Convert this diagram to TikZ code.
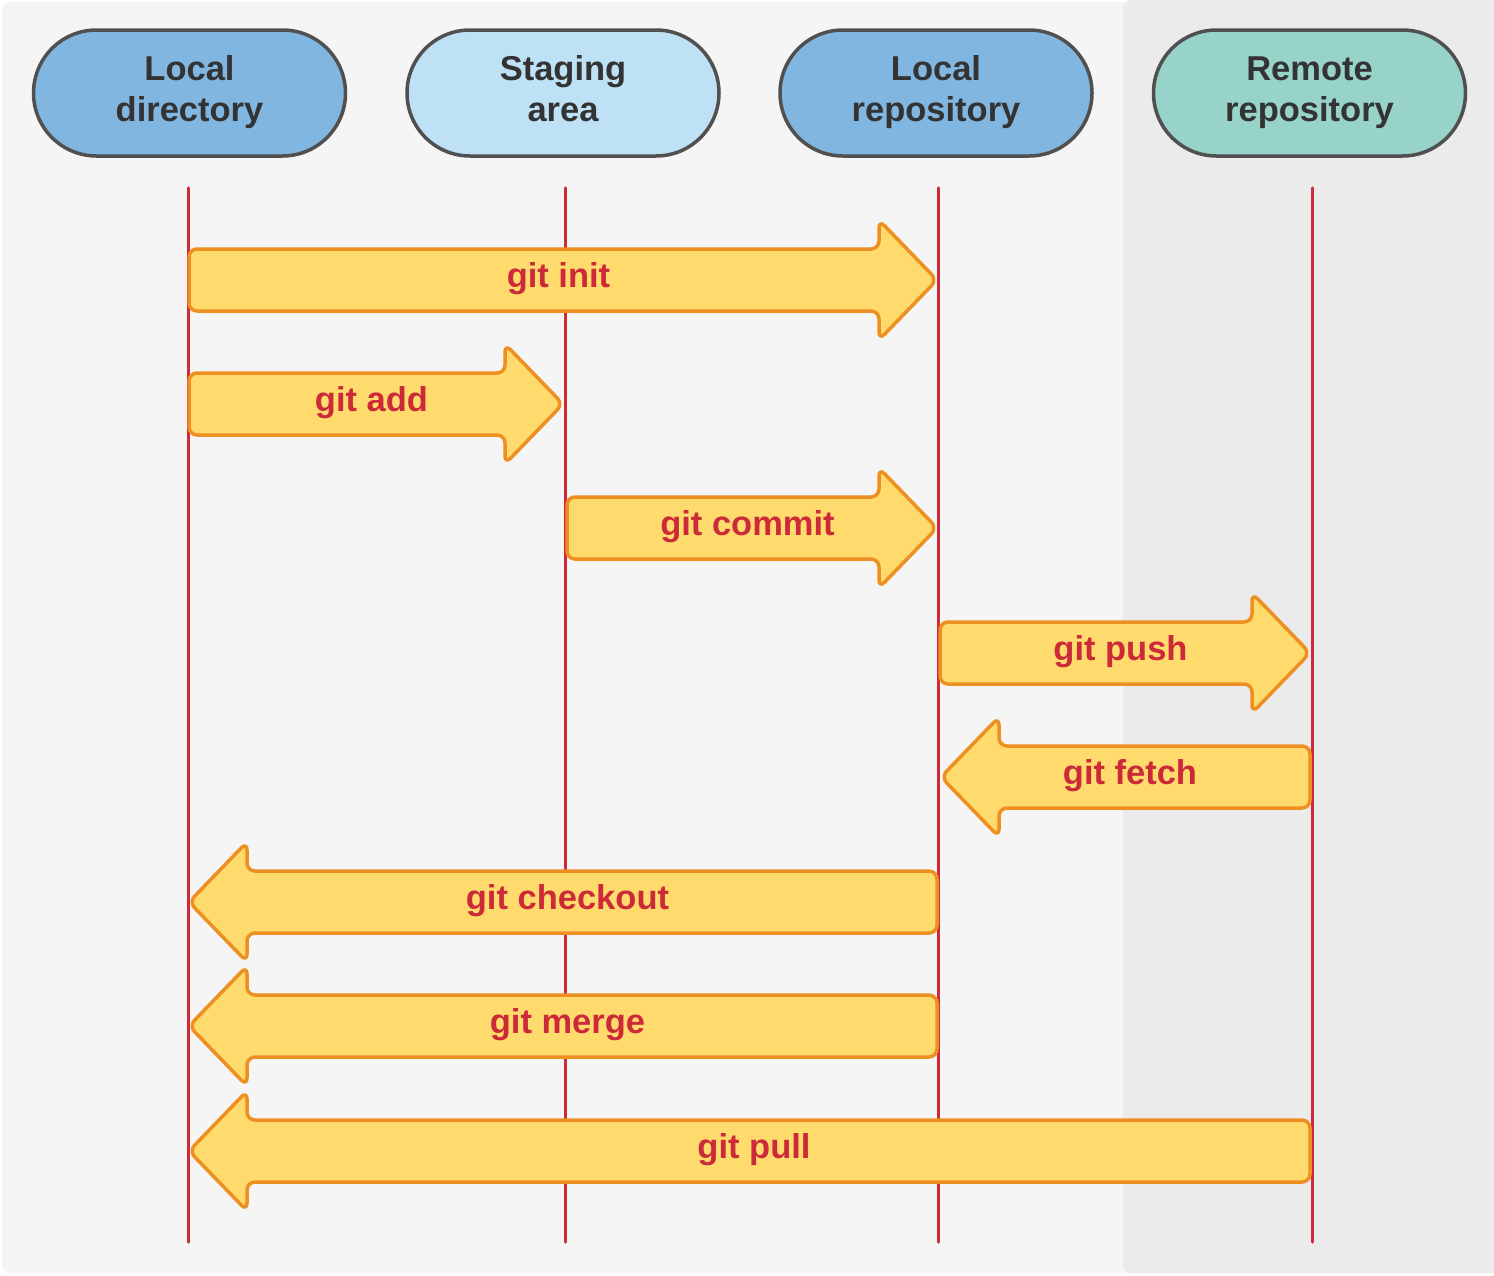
\documentclass[tikz,border=0pt]{standalone}
\usepackage{fontspec}
\setmainfont{Liberation Sans}
\usetikzlibrary{shapes.misc}
\definecolor{bgl}{HTML}{F5F5F5}
\definecolor{bgr}{HTML}{EBEBEB}
\definecolor{hblue}{HTML}{80B6E0}
\definecolor{hlight}{HTML}{BEE1F5}
\definecolor{hgreen}{HTML}{97D3C8}
\definecolor{hborder}{HTML}{505050}
\definecolor{htext}{HTML}{333333}
\definecolor{lanered}{HTML}{CF2A3A}
\definecolor{arrfill}{HTML}{FFDB6E}
\definecolor{arrdraw}{HTML}{EE8F22}
\definecolor{arrtext}{HTML}{CC2A38}
\tikzset{
  hdr/.style={rounded rectangle, draw=hborder, line width=3.5pt, minimum width=312pt, minimum height=126pt,
    align=center, text=htext, font=\fontsize{34.5}{41}\selectfont\bfseries, inner sep=0pt},
  lane/.style={draw=lanered, line width=3.5pt, line cap=round},
  blockarr/.style={fill=arrfill, draw=arrdraw, line width=3.5pt, rounded corners=8pt, line join=round},
  arrlabel/.style={text=arrtext, font=\fontsize{34.5}{40}\selectfont\bfseries, inner sep=0pt}
}
\newcommand{\rightblock}[5]{%
  \path[blockarr] ({#2},{#4-31}) -- ({#3-55},{#4-31}) -- ({#3-55},{#4-60}) -- ({#3+3},{#4}) -- ({#3-55},{#4+60}) -- ({#3-55},{#4+31}) -- ({#2},{#4+31}) -- cycle;
  \node[arrlabel] (#1) at ({(#2+#3)/2-3},{#4-1}) {#5};}
\newcommand{\leftblock}[5]{%
  \path[blockarr] ({#3},{#4-31}) -- ({#2+55},{#4-31}) -- ({#2+55},{#4-60}) -- ({#2-3},{#4}) -- ({#2+55},{#4+60}) -- ({#2+55},{#4+31}) -- ({#3},{#4+31}) -- cycle;
  \node[arrlabel] (#1) at ({(#2+#3)/2+3},{#4-1}) {#5};}
\begin{document}
\begin{tikzpicture}[x=1pt,y=-1pt]
\useasboundingbox (0,0) rectangle (1494,1275);
\fill[white] (0,0) rectangle (1494,1275);
\fill[bgl, rounded corners=8pt] (2,2) rectangle (1140,1273);
\fill[bgr, rounded corners=8pt] (1123,0) rectangle (1502,1273);
% headers
\node[hdr, fill=hblue] (h1) at (189.5,93) {\strut Local\\\strut directory};
\node[hdr, fill=hlight] (h2) at (563,93) {\strut Staging\\\strut area};
\node[hdr, fill=hblue] (h3) at (936,93) {\strut Local\\\strut repository};
\node[hdr, fill=hgreen] (h4) at (1309.5,93) {\strut Remote\\\strut repository};
% lanes
\coordinate (l1t) at (188.5,188); \coordinate (l1b) at (188.5,1242);
\coordinate (l2t) at (565.5,188); \coordinate (l2b) at (565.5,1242);
\coordinate (l3t) at (938.5,188); \coordinate (l3b) at (938.5,1242);
\coordinate (l4t) at (1312.5,188); \coordinate (l4b) at (1312.5,1242);
\draw[lane] (l1t) -- (l1b);
\draw[lane] (l2t) -- (l2b);
\draw[lane] (l3t) -- (l3b);
\draw[lane] (l4t) -- (l4b);
% arrows
\rightblock{init}{189}{934}{280}{git init}
\rightblock{add}{189}{560}{404}{git add}
\rightblock{commit}{567}{934}{528}{git commit}
\rightblock{push}{940}{1307}{653}{git push}
\leftblock{fetch}{944}{1310}{777}{git fetch}
\leftblock{checkout}{192}{937}{902}{git checkout}
\leftblock{merge}{192}{937}{1026}{git merge}
\leftblock{pull}{192}{1310}{1151}{git pull}
\end{tikzpicture}
\end{document}
